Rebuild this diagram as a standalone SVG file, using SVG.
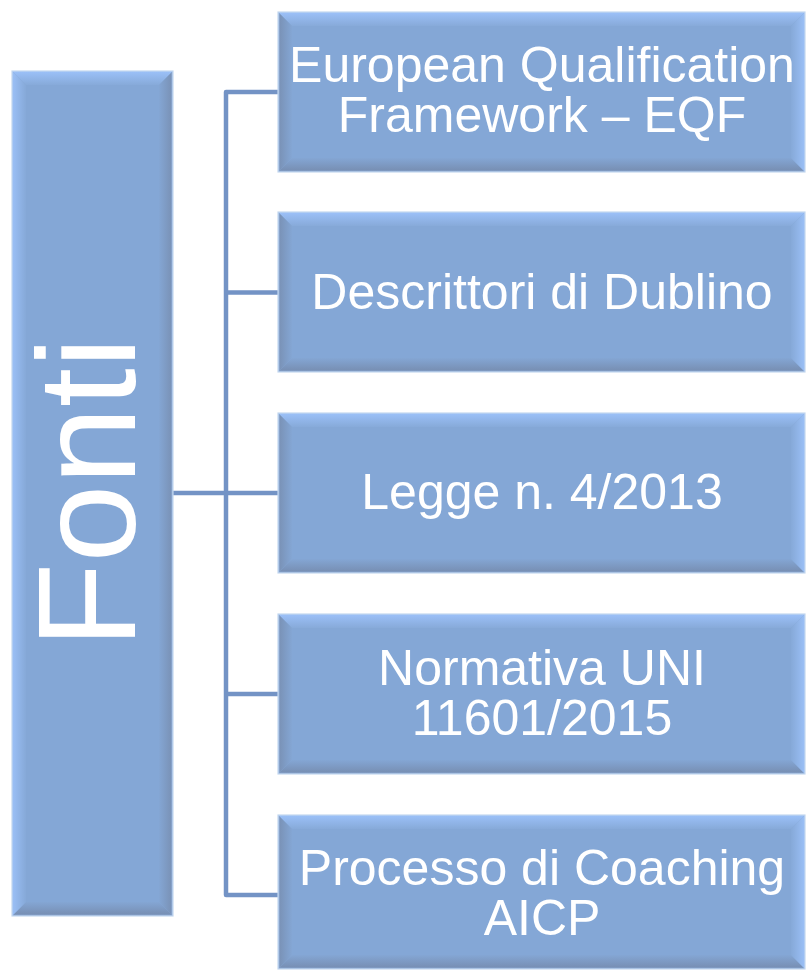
<svg xmlns="http://www.w3.org/2000/svg" width="807" height="973" viewBox="0 0 807 973">
<defs>
<linearGradient id="gTop" x1="0" y1="0" x2="0" y2="1"><stop offset="0" stop-color="#9CC1F9"/><stop offset="1" stop-color="#87AAD9"/></linearGradient>
<linearGradient id="gBot" x1="0" y1="0" x2="0" y2="1"><stop offset="0" stop-color="#84A6D4"/><stop offset="0.85" stop-color="#7890B5"/><stop offset="1" stop-color="#8EAEDB"/></linearGradient>
<linearGradient id="gLight" x1="0" y1="0" x2="1" y2="0"><stop offset="0" stop-color="#9BC0F7"/><stop offset="1" stop-color="#86A9D8"/></linearGradient>
<linearGradient id="gLightR" x1="1" y1="0" x2="0" y2="0"><stop offset="0" stop-color="#9BC0F7"/><stop offset="1" stop-color="#86A9D8"/></linearGradient>
<linearGradient id="gDarkR" x1="0" y1="0" x2="1" y2="0"><stop offset="0" stop-color="#84A6D4"/><stop offset="0.85" stop-color="#7A93B8"/><stop offset="1" stop-color="#A6C5F2"/></linearGradient>
<linearGradient id="gDarkL" x1="1" y1="0" x2="0" y2="0"><stop offset="0" stop-color="#84A6D4"/><stop offset="0.85" stop-color="#7A93B8"/><stop offset="1" stop-color="#A6C5F2"/></linearGradient>
</defs>
<style>
.face{fill:#84A7D6;}
.edge{fill:none;stroke:#C4D7EF;stroke-width:1.2;}
.lbl{font-family:"Liberation Sans",Arial,sans-serif;font-size:50px;fill:#FFFFFF;text-anchor:middle;}
.big{font-family:"Liberation Sans",Arial,sans-serif;font-size:140px;fill:#FFFFFF;text-anchor:middle;}
.conn{fill:none;stroke:#7393C5;stroke-width:4.5;stroke-linejoin:round;}
</style>
<rect width="807" height="973" fill="#FFFFFF"/>

<g id="connectors">
<path class="conn" d="M278,92 H226 V895 H278"/>
<path class="conn" d="M226,292.5 H278 M226,493 H278 M226,694 H278 M172,493 H226"/>
</g>

<g id="fonti">
<rect class="face" x="12" y="71" width="161" height="845"/>
<polygon fill="url(#gTop)" points="12,71 173,71 159,85 26,85"/>
<polygon fill="url(#gBot)" points="26,902 159,902 173,916 12,916"/>
<polygon fill="url(#gLight)" points="12,71 26,85 26,902 12,916"/>
<polygon fill="url(#gDarkR)" points="159,85 173,71 173,916 159,902"/>
<rect class="edge" x="12" y="71" width="161" height="845"/>
<text class="big" transform="translate(135,492.5) rotate(-90)">Fonti</text>
</g>

<g id="box1">
<rect class="face" x="278" y="12" width="527" height="160"/>
<polygon fill="url(#gTop)" points="278,12 805,12 791,26 292,26"/>
<polygon fill="url(#gBot)" points="292,158 791,158 805,172 278,172"/>
<polygon fill="url(#gDarkL)" points="278,12 292,26 292,158 278,172"/>
<polygon fill="url(#gLightR)" points="791,26 805,12 805,172 791,158"/>
<rect class="edge" x="278" y="12" width="527" height="160"/>
<text class="lbl"><tspan x="542" y="82">European Qualification</tspan><tspan x="542" y="132">Framework – EQF</tspan></text>
</g>

<g id="box2">
<rect class="face" x="278" y="212" width="527" height="160"/>
<polygon fill="url(#gTop)" points="278,212 805,212 791,226 292,226"/>
<polygon fill="url(#gBot)" points="292,358 791,358 805,372 278,372"/>
<polygon fill="url(#gDarkL)" points="278,212 292,226 292,358 278,372"/>
<polygon fill="url(#gLightR)" points="791,226 805,212 805,372 791,358"/>
<rect class="edge" x="278" y="212" width="527" height="160"/>
<text class="lbl" x="542" y="309">Descrittori di Dublino</text>
</g>

<g id="box3">
<rect class="face" x="278" y="413" width="527" height="160"/>
<polygon fill="url(#gTop)" points="278,413 805,413 791,427 292,427"/>
<polygon fill="url(#gBot)" points="292,559 791,559 805,573 278,573"/>
<polygon fill="url(#gDarkL)" points="278,413 292,427 292,559 278,573"/>
<polygon fill="url(#gLightR)" points="791,427 805,413 805,573 791,559"/>
<rect class="edge" x="278" y="413" width="527" height="160"/>
<text class="lbl" x="542" y="509">Legge n. 4/2013</text>
</g>

<g id="box4">
<rect class="face" x="278" y="614" width="527" height="160"/>
<polygon fill="url(#gTop)" points="278,614 805,614 791,628 292,628"/>
<polygon fill="url(#gBot)" points="292,760 791,760 805,774 278,774"/>
<polygon fill="url(#gDarkL)" points="278,614 292,628 292,760 278,774"/>
<polygon fill="url(#gLightR)" points="791,628 805,614 805,774 791,760"/>
<rect class="edge" x="278" y="614" width="527" height="160"/>
<text class="lbl"><tspan x="542" y="685">Normativa UNI</tspan><tspan x="542" y="735">11601/2015</tspan></text>
</g>

<g id="box5">
<rect class="face" x="278" y="815" width="527" height="154"/>
<polygon fill="url(#gTop)" points="278,815 805,815 791,829 292,829"/>
<polygon fill="url(#gBot)" points="292,955 791,955 805,969 278,969"/>
<polygon fill="url(#gDarkL)" points="278,815 292,829 292,955 278,969"/>
<polygon fill="url(#gLightR)" points="791,829 805,815 805,969 791,955"/>
<rect class="edge" x="278" y="815" width="527" height="154"/>
<text class="lbl"><tspan x="542" y="885">Processo di Coaching</tspan><tspan x="542" y="935">AICP</tspan></text>
</g>
</svg>
